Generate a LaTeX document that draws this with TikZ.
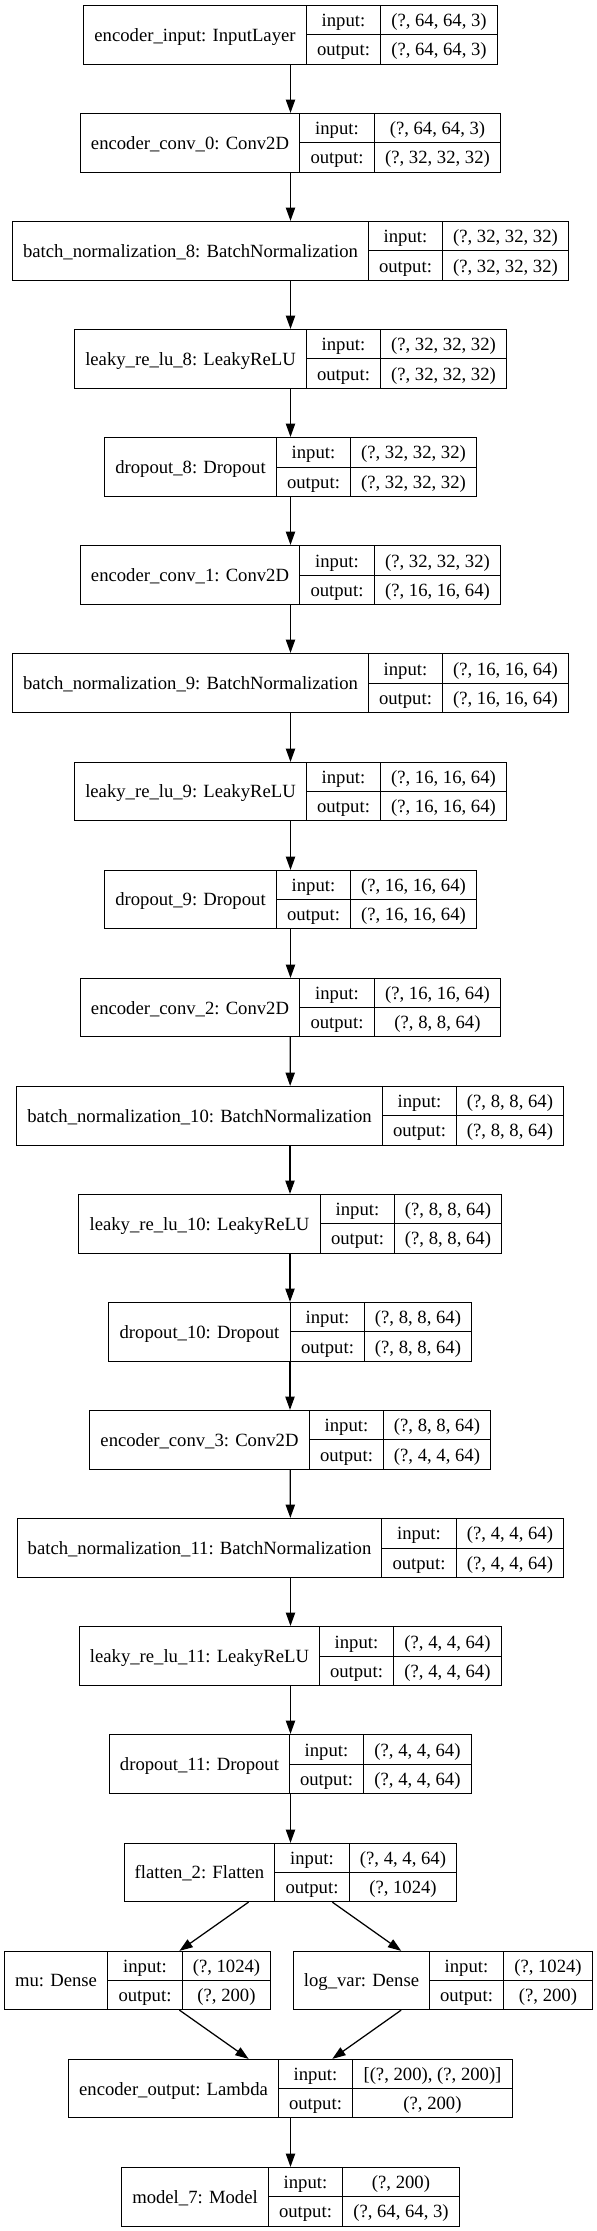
\documentclass[tikz,border=0pt]{standalone}
\usepackage{fontspec}
\setmainfont{Liberation Serif}
\usetikzlibrary{arrows.meta}
\newcommand\recfont{\fontsize{18.67pt}{22pt}\selectfont}
\newlength\rwa \newlength\rwb \newlength\rwc \newlength\rtmp
\tikzset{
  recbox/.style={draw=black, line width=1.25pt, inner sep=0pt, fill=white},
  recline/.style={draw=black, line width=1.25pt},
  rtext/.style={inner sep=0pt, font=\recfont, anchor=base},
  edge/.style={draw=black, line width=1.25pt, -{Triangle[length=13.3pt,width=9.3pt]}},
}
% #1 id, #2 center x, #3 center y (image coords, downwards), #4 label, #5 input, #6 output
\newcommand\mkrec[6]{%
  \pgfinterruptpicture
    \setbox0\hbox{\recfont #4}\global\rwa=\wd0
    \setbox0\hbox{\recfont output:}\global\rwb=\wd0
    \setbox0\hbox{\recfont #5}\global\rwc=\wd0
    \setbox0\hbox{\recfont #6}\global\rtmp=\wd0
  \endpgfinterruptpicture
  \ifdim\rtmp>\rwc \global\rwc=\rtmp\fi
  \global\advance\rwa by 21.33pt
  \global\advance\rwb by 21.33pt
  \global\advance\rwc by 21.33pt
  \pgfmathsetmacro\rW{\rwa+\rwb+\rwc}%
  \pgfmathsetmacro\rLu{#2-\rW/2}%
  \pgfmathsetmacro\rL{floor(\rLu)+0.5}%
  \pgfmathsetmacro\rA{floor(\rLu+\rwa)+0.5}%
  \pgfmathsetmacro\rB{floor(\rLu+\rwa+\rwb)+0.5}%
  \pgfmathsetmacro\rR{floor(\rLu+\rW)+0.5}%
  \pgfmathsetmacro\rT{floor(#3-29.33)+0.5}%
  \pgfmathsetmacro\rBo{floor(#3+29.33)+0.5}%
  \pgfmathsetmacro\rM{floor(#3)+0.5}%
  \node[recbox, minimum width={(\rR-\rL)*1pt}, minimum height={(\rBo-\rT)*1pt}] (#1) at ({(\rL+\rR)/2},{(\rT+\rBo)/2}) {};
  \draw[recline] ({\rA},{\rT}) -- ({\rA},{\rBo});
  \draw[recline] ({\rB},{\rT}) -- ({\rB},{\rBo});
  \draw[recline] ({\rA},{\rM}) -- ({\rR},{\rM});
  \node[rtext] (#1-l) at ({(\rL+\rA)/2},{#3+6.5}) {#4};
  \node[rtext] (#1-i) at ({(\rA+\rB)/2},{#3-14.67+6.5}) {input:};
  \node[rtext] (#1-o) at ({(\rA+\rB)/2},{#3+14.67+6.5}) {output:};
  \node[rtext] (#1-iv) at ({(\rB+\rR)/2},{#3-14.67+6.5}) {#5};
  \node[rtext] (#1-ov) at ({(\rB+\rR)/2},{#3+14.67+6.5}) {#6};
}
\begin{document}
\begin{tikzpicture}[x=1pt,y=-1pt]
\useasboundingbox (0,0) rectangle (597,2231);
\def\cx{290.3}
\mkrec{r0}{\cx}{34.67}{encoder\_input: InputLayer}{(?, 64, 64, 3)}{(?, 64, 64, 3)}
\mkrec{r1}{\cx}{142.77}{encoder\_conv\_0: Conv2D}{(?, 64, 64, 3)}{(?, 32, 32, 32)}
\mkrec{r2}{\cx}{250.87}{batch\_normalization\_8: BatchNormalization}{(?, 32, 32, 32)}{(?, 32, 32, 32)}
\mkrec{r3}{\cx}{358.97}{leaky\_re\_lu\_8: LeakyReLU}{(?, 32, 32, 32)}{(?, 32, 32, 32)}
\mkrec{r4}{\cx}{467.07}{dropout\_8: Dropout}{(?, 32, 32, 32)}{(?, 32, 32, 32)}
\mkrec{r5}{\cx}{575.17}{encoder\_conv\_1: Conv2D}{(?, 32, 32, 32)}{(?, 16, 16, 64)}
\mkrec{r6}{\cx}{683.27}{batch\_normalization\_9: BatchNormalization}{(?, 16, 16, 64)}{(?, 16, 16, 64)}
\mkrec{r7}{\cx}{791.37}{leaky\_re\_lu\_9: LeakyReLU}{(?, 16, 16, 64)}{(?, 16, 16, 64)}
\mkrec{r8}{\cx}{899.47}{dropout\_9: Dropout}{(?, 16, 16, 64)}{(?, 16, 16, 64)}
\mkrec{r9}{\cx}{1007.57}{encoder\_conv\_2: Conv2D}{(?, 16, 16, 64)}{(?, 8, 8, 64)}
\mkrec{r10}{\cx}{1115.67}{batch\_normalization\_10: BatchNormalization}{(?, 8, 8, 64)}{(?, 8, 8, 64)}
\mkrec{r11}{\cx}{1223.77}{leaky\_re\_lu\_10: LeakyReLU}{(?, 8, 8, 64)}{(?, 8, 8, 64)}
\mkrec{r12}{\cx}{1331.87}{dropout\_10: Dropout}{(?, 8, 8, 64)}{(?, 8, 8, 64)}
\mkrec{r13}{\cx}{1439.97}{encoder\_conv\_3: Conv2D}{(?, 8, 8, 64)}{(?, 4, 4, 64)}
\mkrec{r14}{\cx}{1548.07}{batch\_normalization\_11: BatchNormalization}{(?, 4, 4, 64)}{(?, 4, 4, 64)}
\mkrec{r15}{\cx}{1656.17}{leaky\_re\_lu\_11: LeakyReLU}{(?, 4, 4, 64)}{(?, 4, 4, 64)}
\mkrec{r16}{\cx}{1764.27}{dropout\_11: Dropout}{(?, 4, 4, 64)}{(?, 4, 4, 64)}
\mkrec{r17}{\cx}{1872.37}{flatten\_2: Flatten}{(?, 4, 4, 64)}{(?, 1024)}
\mkrec{mu}{137.7}{1980.47}{mu: Dense}{(?, 1024)}{(?, 200)}
\mkrec{lv}{442.8}{1980.47}{log\_var: Dense}{(?, 1024)}{(?, 200)}
\mkrec{r19}{\cx}{2088.57}{encoder\_output: Lambda}{[(?, 200), (?, 200)]}{(?, 200)}
\mkrec{r20}{\cx}{2196.67}{model\_7: Model}{(?, 200)}{(?, 64, 64, 3)}
\foreach \a/\b in {r0/r1,r1/r2,r2/r3,r3/r4,r4/r5,r5/r6,r6/r7,r7/r8,r8/r9,r9/r10,r10/r11,r11/r12,r12/r13,r13/r14,r14/r15,r15/r16,r16/r17,r17/mu,r17/lv,mu/r19,lv/r19,r19/r20}
  \draw[edge] (\a) -- (\b);
\end{tikzpicture}
\end{document}
